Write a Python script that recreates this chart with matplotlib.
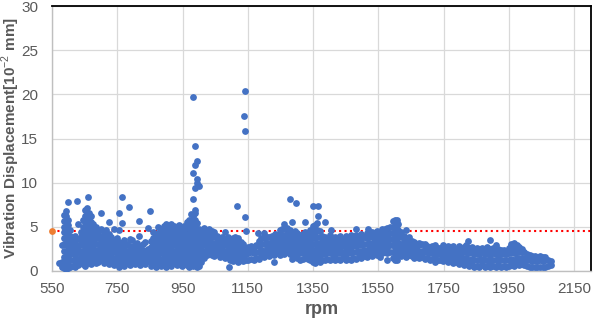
import matplotlib
matplotlib.use('Agg')

import matplotlib.pyplot as plt
import numpy as np

plt.rcParams['font.family'] = ['Liberation Sans', 'DejaVu Sans']
plt.rcParams['mathtext.fontset'] = 'custom'
plt.rcParams['mathtext.rm'] = 'Liberation Sans'

# rpm -> vibration readings
seg_low_rpm = [
    (572, [0.9]),
    (580, [0.4, 1.0, 2.9]),
    (588, [0.3, 0.9, 1.6, 2.3, 3.0, 3.7, 4.4, 5.0, 5.7, 6.3]),
    (594, [0.2, 0.8, 1.5, 2.2, 2.9, 3.6, 4.3, 5.0, 5.6, 6.2, 6.8]),
    (600, [0.3, 1.0, 1.7, 2.4, 3.1, 3.8, 4.5, 5.2, 5.8, 7.85]),
    (606, [0.5, 1.2, 1.9, 2.6, 3.3, 4.0, 4.6]),
    (614, [0.6, 1.3, 2.0, 2.7, 3.4]),
    (622, [0.4, 1.1, 1.8, 2.5, 3.2, 4.0]),
    (627, [7.96]),
    (630, [0.7, 1.4, 2.1, 2.8, 3.6, 5.3]),
    (638, [0.9, 1.6, 2.3, 3.0, 3.8, 4.4]),
    (646, [0.8, 1.5, 2.2, 2.9, 3.6, 4.3, 5.0, 5.8]),
    (652, [0.6, 1.3, 2.0, 2.7, 3.4, 4.1, 4.8, 5.5, 6.2, 6.9]),
    (658, [0.9, 1.6, 2.3, 3.0, 3.7, 4.4, 5.1, 5.8, 6.5, 7.1]),
    (661, [8.35]),
    (664, [1.0, 1.7, 2.4, 3.1, 3.8, 4.5, 5.2, 5.9, 6.6]),
    (670, [0.8, 1.5, 2.2, 2.9, 3.6, 4.3, 5.0, 5.6, 6.2]),
    (676, [1.1, 1.8, 2.5, 3.2, 3.9, 4.6, 5.3]),
    (684, [0.9, 1.6, 2.3, 3.0, 3.7, 4.4, 5.0]),
    (692, [1.0, 1.7, 2.4, 3.1, 3.8, 4.5]),
    (700, [1.2, 1.9, 2.6, 3.3, 4.0, 4.7, 6.6]),
]

seg_mid_rpm = [
    (708, [0.9, 1.6, 2.3, 3.0, 3.7, 4.4]),
    (716, [1.1, 1.8, 2.5, 3.2, 3.9, 4.6]),
    (724, [0.8, 1.5, 2.2, 2.9, 3.6, 4.2, 5.5]),
    (732, [1.0, 1.7, 2.4, 3.1, 3.8]),
    (740, [0.7, 1.4, 2.1, 2.8, 3.5, 4.8]),
    (748, [0.9, 1.6, 2.3, 3.0, 3.7]),
    (756, [0.5, 1.2, 1.9, 2.6, 3.3, 4.6, 6.6]),
    (764, [0.8, 1.5, 2.2, 2.9, 5.4, 8.4]),
    (772, [0.6, 1.3, 2.0, 2.7, 3.5]),
    (780, [0.9, 1.6, 2.3, 3.0]),
    (786, [7.3]),
    (788, [0.7, 1.4, 2.1, 2.8, 3.6]),
    (796, [1.0, 1.7, 2.4, 3.5]),
    (804, [0.8, 1.5, 2.2, 2.9]),
    (812, [1.1, 1.8, 2.5, 3.2]),
    (817, [5.7, 4.0]),
    (820, [0.7, 1.4, 2.1, 2.8]),
    (828, [1.0, 1.7, 2.4, 3.1]),
    (836, [0.8, 1.5, 2.2, 3.3]),
    (844, [1.1, 1.8, 2.5, 4.9]),
    (851, [6.8]),
    (852, [0.6, 1.3, 2.0, 2.7, 3.4]),
    (860, [0.9, 1.6, 2.3, 3.0, 3.7, 4.4]),
    (868, [0.5, 1.2, 1.9, 2.6, 3.3, 4.0]),
    (876, [0.8, 1.5, 2.2, 2.9, 3.6, 4.3, 5.0]),
    (884, [0.6, 1.3, 2.0, 2.7, 3.4, 4.1, 4.8]),
    (892, [0.9, 1.6, 2.3, 3.0, 3.7, 4.4, 5.1]),
    (900, [0.5, 1.2, 1.9, 2.6, 3.3, 4.0, 4.7, 5.3]),
    (908, [0.8, 1.5, 2.2, 2.9, 3.6, 4.3, 5.0]),
    (916, [0.6, 1.3, 2.0, 2.7, 3.4, 4.1, 4.8, 5.3]),
    (924, [0.9, 1.6, 2.3, 3.0, 3.7, 4.4, 5.1]),
    (932, [0.7, 1.4, 2.1, 2.8, 3.5, 4.2, 4.9]),
    (940, [1.0, 1.7, 2.4, 3.1, 3.8, 4.5, 5.2]),
    (948, [0.6, 1.3, 2.0, 2.7, 3.4, 4.1, 4.8]),
    (956, [0.9, 1.6, 2.3, 3.0, 3.7, 4.4, 5.1]),
    (964, [0.7, 1.4, 2.1, 2.8, 3.5, 4.2, 4.9, 5.6]),
    (970, [0.5, 1.2, 1.9, 2.6, 3.3, 4.0, 4.7, 5.4, 5.8]),
    (976, [0.8, 1.5, 2.2, 2.9, 3.6, 4.3, 5.0, 5.7, 6.4]),
    (982, [0.6, 1.3, 2.0, 2.7, 3.4, 4.1, 4.8, 5.5, 6.2, 8.1, 11.06, 19.67]),
    (988, [0.9, 1.6, 2.3, 3.0, 3.7, 4.4, 5.1, 5.8, 6.6, 6.9, 9.4, 12.0, 14.15]),
    (993, [0.5, 1.2, 1.9, 2.6, 3.3, 4.0, 4.7, 5.4, 10.0, 10.4, 12.45]),
    (1000, [0.6, 1.3, 2.0, 2.7, 3.4, 4.1, 4.8, 9.6]),
    (1008, [1.0, 1.7, 2.4, 3.1, 3.8, 4.5]),
    (1016, [1.5, 2.2, 2.9, 3.6, 4.3, 4.9]),
    (1024, [1.8, 2.5, 3.2, 3.9, 4.6]),
    (1032, [2.0, 2.7, 3.4, 4.1, 4.8]),
    (1040, [1.8, 2.5, 3.2, 3.9, 4.5]),
    (1048, [1.7, 2.4, 3.1, 3.8, 4.4]),
    (1056, [1.9, 2.6, 3.3, 4.0]),
    (1064, [1.6, 2.3, 3.0, 3.7]),
    (1072, [1.8, 2.5, 3.2, 3.9]),
    (1079, [4.45]),
    (1080, [1.5, 2.2, 2.9, 3.6]),
    (1088, [1.7, 2.4, 3.1, 3.8]),
    (1093, [0.5]),
    (1096, [1.3, 2.0, 2.7, 3.4]),
    (1104, [1.1, 1.8, 2.5, 3.2, 3.7]),
    (1112, [1.2, 1.9, 2.6, 3.3, 3.8]),
    (1118, [7.4]),
    (1120, [1.0, 1.7, 2.4, 3.1, 3.7]),
    (1128, [1.2, 1.9, 2.6, 3.3]),
    (1136, [1.1, 1.8, 2.5, 3.1]),
    (1138, [17.5]),
    (1143, [6.1, 15.9, 20.4]),
    (1144, [1.2, 1.9, 2.6, 4.5]),
]

seg_high_rpm = [
    (1152, [1.3, 2.0, 2.7]),
    (1160, [1.4, 2.1, 2.8]),
    (1168, [1.3, 2.0, 2.7]),
    (1176, [1.5, 2.2, 2.9]),
    (1181, [4.3]),
    (1184, [1.4, 2.1, 2.8, 3.4]),
    (1192, [1.7, 2.4, 3.1, 3.7]),
    (1200, [1.6, 2.3, 3.0, 3.7, 4.3]),
    (1208, [1.8, 2.5, 3.2, 3.9]),
    (1216, [1.7, 2.4, 3.1, 3.8]),
    (1224, [1.9, 2.6, 3.3, 4.0]),
    (1230, [1.05, 1.8]),
    (1232, [2.1, 2.8, 3.5, 4.2]),
    (1240, [2.0, 2.7, 3.4, 4.1]),
    (1248, [1.8, 2.5, 3.2, 3.9, 4.6]),
    (1256, [2.0, 2.7, 3.4, 4.1, 4.8]),
    (1262, [1.9, 2.6, 3.3, 4.0, 4.7, 5.3]),
    (1270, [2.1, 2.8, 3.5, 4.2, 4.9]),
    (1278, [1.9, 2.6, 3.3, 4.0, 4.6, 8.2]),
    (1286, [1.4, 2.2, 2.9, 3.6, 4.3, 5.5]),
    (1294, [1.7, 2.4, 3.1, 3.8, 4.5]),
    (1298, [7.75]),
    (1302, [1.5, 2.2, 2.9, 3.6, 4.3]),
    (1310, [1.3, 2.0, 2.7, 3.4, 4.1]),
    (1318, [1.35, 2.1, 2.8, 3.5, 4.2]),
    (1326, [1.6, 2.3, 3.0, 3.7, 4.4, 5.6]),
    (1334, [1.4, 2.1, 2.8, 3.5, 4.2]),
    (1342, [1.2, 1.9, 2.6, 3.3, 4.0, 4.6]),
    (1349, [7.4]),
    (1350, [1.0, 1.7, 2.4, 3.1, 3.8, 4.5, 5.1]),
    (1356, [0.9, 1.6, 2.3, 3.0, 3.7, 4.4, 5.2]),
    (1362, [1.1, 1.8, 2.5, 3.2, 3.9, 4.6, 5.4]),
    (1366, [6.2, 7.4]),
    (1370, [1.0, 1.7, 2.4, 3.1, 3.8, 4.5]),
    (1378, [1.3, 2.0, 2.7, 3.4, 4.0]),
    (1386, [1.2, 1.9, 2.6, 3.3, 3.9, 5.5]),
    (1394, [1.4, 2.1, 2.8, 3.5]),
    (1402, [1.3, 2.0, 2.7, 3.4, 4.1]),
    (1405, [4.65]),
    (1410, [1.5, 2.2, 2.9, 3.6]),
    (1418, [1.2, 1.9, 2.6, 3.3, 3.9]),
    (1426, [1.4, 2.1, 2.8, 3.5]),
    (1434, [1.3, 2.0, 2.7, 3.4, 4.0]),
    (1442, [1.5, 2.2, 2.9, 3.6]),
    (1450, [1.2, 1.9, 2.6, 3.3, 4.0]),
    (1458, [1.4, 2.1, 2.8, 3.5]),
    (1466, [1.3, 2.0, 2.7, 3.4, 4.1]),
    (1474, [1.5, 2.2, 2.9, 3.6]),
    (1482, [1.4, 2.1, 2.8, 3.5, 4.1, 4.7]),
    (1490, [1.6, 2.3, 3.0, 3.7]),
    (1498, [1.5, 2.2, 2.9, 3.6, 4.2]),
    (1506, [1.7, 2.4, 3.1, 3.8]),
    (1514, [1.6, 2.3, 3.0, 3.7, 4.3]),
    (1519, [4.7]),
    (1522, [1.8, 2.5, 3.2, 3.9]),
    (1530, [1.7, 2.4, 3.1, 3.8, 4.4]),
    (1538, [1.9, 2.6, 3.3, 4.0]),
    (1546, [1.8, 2.5, 3.2, 3.9, 4.5]),
    (1554, [1.6, 2.3, 3.0, 3.7, 4.4]),
    (1562, [2.0, 2.7, 3.4, 4.1, 4.7]),
    (1570, [2.1, 2.8, 3.5, 4.2, 4.8]),
    (1578, [1.25, 2.0, 2.7, 3.4, 4.1, 4.9]),
    (1586, [2.2, 2.9, 3.6, 4.3, 5.0]),
    (1594, [1.5, 2.2, 2.9, 3.6, 4.3, 5.0, 5.7]),
    (1600, [1.3, 2.0, 2.7, 3.4, 4.1, 4.8, 5.5, 5.8]),
    (1606, [1.2, 1.9, 2.6, 3.3, 4.0, 4.7, 5.4, 5.8]),
    (1612, [1.8, 2.5, 3.2, 3.9, 4.6, 5.3]),
    (1620, [1.7, 2.4, 3.1, 3.8, 4.4]),
    (1628, [1.9, 2.6, 3.3, 4.0]),
    (1636, [1.6, 2.3, 3.0, 3.7, 4.65]),
    (1644, [1.8, 2.5, 3.2, 3.9]),
    (1652, [1.7, 2.4, 3.1, 3.4]),
    (1660, [1.5, 2.2, 2.9, 3.3]),
    (1668, [1.7, 2.4, 3.1]),
    (1676, [1.5, 2.2, 2.9, 3.2]),
    (1684, [1.6, 2.3, 3.0]),
    (1692, [1.4, 2.1, 2.8, 3.1]),
    (1700, [1.5, 2.2, 2.8]),
]

seg_top_rpm = [
    (1708, [1.3, 2.0, 2.7]),
    (1716, [1.4, 2.1, 2.8]),
    (1724, [1.05, 1.7, 2.4, 2.9]),
    (1732, [1.3, 2.0, 2.6]),
    (1740, [1.2, 1.9, 2.6]),
    (1748, [1.1, 1.8, 2.5, 2.9]),
    (1756, [1.2, 1.9, 2.6]),
    (1764, [1.0, 1.7, 2.4, 2.8]),
    (1772, [1.1, 1.8, 2.5]),
    (1780, [0.9, 1.6, 2.3, 2.8]),
    (1788, [1.0, 1.7, 2.4]),
    (1796, [0.8, 1.5, 2.2, 2.8]),
    (1804, [0.9, 1.6, 2.3]),
    (1812, [0.7, 1.4, 2.1, 2.7]),
    (1820, [0.8, 1.5, 2.2, 2.9]),
    (1826, [3.4]),
    (1828, [0.6, 1.3, 2.0, 2.6]),
    (1836, [0.7, 1.4, 2.1, 2.7]),
    (1844, [0.5, 1.2, 1.9, 2.5]),
    (1852, [0.6, 1.3, 2.0, 2.6]),
    (1860, [0.5, 1.2, 1.9, 2.5]),
    (1868, [0.7, 1.4, 2.1, 2.6]),
    (1876, [0.5, 1.2, 1.9, 2.4]),
    (1884, [0.6, 1.3, 2.0, 2.7]),
    (1894, [0.4, 1.1, 1.8, 2.5, 3.5]),
    (1902, [0.6, 1.3, 2.0, 2.6]),
    (1910, [0.5, 1.2, 1.9, 2.95]),
    (1918, [0.7, 1.4, 2.1, 2.5]),
    (1926, [0.5, 1.2, 1.9, 2.4]),
    (1934, [0.6, 1.3, 2.0, 2.4]),
    (1942, [0.5, 1.2, 1.9, 2.3]),
    (1950, [0.6, 1.3, 2.0, 2.6]),
    (1958, [0.7, 1.4, 2.1, 2.8, 3.1]),
    (1966, [0.6, 1.3, 2.0, 2.7, 3.2]),
    (1974, [0.8, 1.5, 2.2, 2.9]),
    (1982, [0.7, 1.4, 2.1, 2.7]),
    (1990, [0.8, 1.5, 2.2, 2.5]),
    (1998, [0.7, 1.4, 2.1]),
    (2006, [0.6, 1.3, 1.9]),
    (2014, [0.5, 1.2, 1.8]),
    (2022, [0.4, 1.1, 1.7]),
    (2030, [0.5, 1.2, 1.7]),
    (2038, [0.4, 1.1, 1.6]),
    (2046, [0.5, 1.2, 1.7]),
    (2054, [0.4, 1.1, 1.6]),
    (2062, [0.5, 1.2, 1.6]),
    (2070, [0.6, 1.2]),
    (2078, [0.7, 1.1]),
]

limit_value = 4.5
limit_rpm = 550
x_ticks = [550, 750, 950, 1150, 1350, 1550, 1750, 1950, 2150]
y_ticks = [0, 5, 10, 15, 20, 25, 30]

rpm = []
vib = []
for seg in (seg_low_rpm, seg_mid_rpm, seg_high_rpm, seg_top_rpm):
    for r, vals in seg:
        rpm.extend([r] * len(vals))
        vib.extend(vals)
rpm = np.array(rpm)
vib = np.array(vib)

fig = plt.figure(figsize=(5.93, 3.19), dpi=100, facecolor='white')
ax = fig.add_axes([0.0877, 0.1505, 0.9089, 0.8305])

ax.grid(True, color='#D9D9D9', linewidth=0.9, zorder=0)
ax.set_axisbelow(True)

ax.axhline(limit_value, color='#FF0000', linewidth=1.5,
           linestyle=(0, (1, 1.6)), zorder=2)
ax.scatter(rpm, vib, s=24, color='#4472C4', linewidths=0, zorder=3)
ax.scatter([limit_rpm], [limit_value], s=24, color='#ED7D31',
           linewidths=0, zorder=4, clip_on=False)

ax.set_xlim(550, 2202)
ax.set_ylim(0, 30)
ax.set_xticks(x_ticks)
ax.set_yticks(y_ticks)
ax.tick_params(length=0, labelsize=11, labelcolor='#595959')
ax.tick_params(axis='x', pad=8)
ax.tick_params(axis='y', pad=10)

for s in ['top', 'right']:
    ax.spines[s].set_color('black')
    ax.spines[s].set_linewidth(1.3)
for s in ['left', 'bottom']:
    ax.spines[s].set_color('#BFBFBF')
    ax.spines[s].set_linewidth(1.0)

ax.set_xlabel('rpm', fontsize=13, fontweight='bold', color='#595959')
ax.xaxis.set_label_coords(0.5, -0.115)
ax.set_ylabel(r'Vibration Displacement[10$^{-2}$ mm]', fontsize=11,
              fontweight='bold', color='#595959')
ax.yaxis.set_label_coords(-0.056, 0.5)

plt.savefig('out.png', dpi=100, facecolor=fig.get_facecolor())
plt.close()
